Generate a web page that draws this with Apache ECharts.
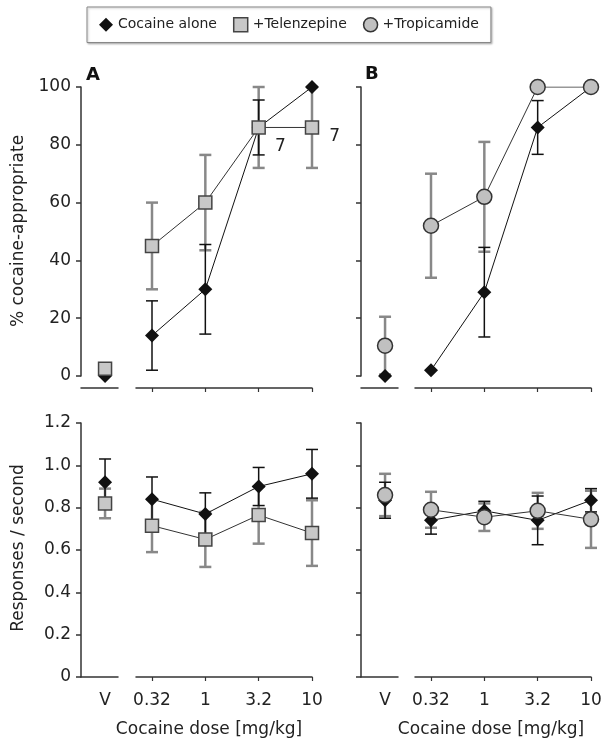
<!DOCTYPE html>
<html lang="en">
<head>
  <meta charset="UTF-8">
  <title>Cocaine dose response</title>
  <style>
    html, body { margin: 0; padding: 0; background: #fff; }
    #chart { width: 607px; height: 750px; }
  </style>
  <script src="https://cdn.jsdelivr.net/npm/echarts@6/dist/echarts.min.js"></script>
</head>
<body>
  <div id="chart"></div>
  <script>
    // index 0 = vehicle (V), 1..4 = cocaine doses
    var doseLabels = ['0.32', '1', '3.2', '10'];

    // % cocaine-appropriate responding
    var cocA_pct = [0, 14, 30, 86, 100];
    var cocA_pctErr = [0, 12, 15.5, 9.5, 0];
    var telA_pct = [2.5, 45, 60, 86, 86];
    var telA_pctErr = [0, 15, 16.5, 14, 14];
    var telA_n = ['', '', '', '7', '7'];

    var cocB_pct = [0, 2, 29, 86, 100];
    var cocB_pctErr = [0, 0, 15.5, 9.3, 0];
    var troB_pct = [10.5, 52, 62, 100, 100];
    var troB_pctErr = [10, 18, 19, 0, 0];

    // responses / second
    var cocA_rate = [0.92, 0.84, 0.77, 0.90, 0.96];
    var cocA_rateErr = [0.11, 0.105, 0.10, 0.09, 0.115];
    var telA_rate = [0.82, 0.715, 0.65, 0.765, 0.68];
    var telA_rateErr = [0.07, 0.125, 0.13, 0.135, 0.155];

    var cocB_rate = [0.835, 0.74, 0.785, 0.74, 0.835];
    var cocB_rateErr = [0.085, 0.065, 0.045, 0.115, 0.055];
    var troB_rate = [0.86, 0.79, 0.755, 0.785, 0.745];
    var troB_rateErr = [0.10, 0.085, 0.065, 0.085, 0.135];

    var FONT = 'DejaVu Sans';
    var AXIS = '#333';

    var styles = {
      'Cocaine alone': { symbol: 'diamond', size: 14, item: { color: '#111' }, line: '#111', err: '#111', errW: 1.5, z: 3 },
      '+Telenzepine': { symbol: 'rect', size: 13, item: { color: '#c8c8c8', borderColor: '#444', borderWidth: 1.5 }, line: '#333', err: '#888', errW: 2.5, z: 4 },
      '+Tropicamide': { symbol: 'circle', size: 15, item: { color: '#c0c0c0', borderColor: '#333', borderWidth: 1.5 }, line: '#333', err: '#888', errW: 2.5, z: 4 }
    };

    // grids: 0 A-top V, 1 A-top dose, 2 B-top V, 3 B-top dose, 4..7 same for bottom row
    var grids = [];
    var xAxes = [];
    var yAxes = [];
    var rows = [{ top: 87, height: 289, max: 100, interval: 20, offset: 12, labels: false },
                { top: 423, height: 254, max: 1.2, interval: 0.2, offset: 0, labels: true }];
    var cols = [{ vLeft: 81, dLeft: 136, yLabels: true }, { vLeft: 361, dLeft: 415, yLabels: false }];

    rows.forEach(function (row) {
      cols.forEach(function (col) {
        // vehicle segment
        grids.push({ left: col.vLeft, width: 37, top: row.top, height: row.height, outerBoundsMode: 'none' });
        xAxes.push({
          gridIndex: grids.length - 1, type: 'value', min: -0.65, max: 0.35, offset: row.offset,
          axisLine: { onZero: false, lineStyle: { color: AXIS, width: 1.5 } },
          axisTick: { show: false }, splitLine: { show: false },
          axisLabel: { show: row.labels, customValues: [0], formatter: function () { return 'V'; },
            margin: 15, fontFamily: FONT, fontSize: 17, color: '#222' }
        });
        yAxes.push({
          gridIndex: grids.length - 1, type: 'value', min: 0, max: row.max, interval: row.interval,
          axisLine: { show: true, onZero: false, lineStyle: { color: AXIS, width: 1.5 } },
          axisTick: { show: true, length: 5, lineStyle: { color: AXIS, width: 1.5 } },
          splitLine: { show: false },
          axisLabel: { show: col.yLabels, margin: 10, fontFamily: FONT, fontSize: 17, color: '#222',
            formatter: function (v) { return row.max > 2 ? String(v) : (v === 0 ? '0' : v.toFixed(1)); } }
        });
        // dose segment
        grids.push({ left: col.dLeft, width: 176, top: row.top, height: row.height, outerBoundsMode: 'none' });
        xAxes.push({
          gridIndex: grids.length - 1, type: 'value', min: -0.3, max: 3, offset: row.offset,
          axisLine: { onZero: false, lineStyle: { color: AXIS, width: 1.5 } },
          axisTick: { show: true, customValues: [0, 1, 2, 3], length: 4, lineStyle: { color: AXIS, width: 1.2 } },
          splitLine: { show: false },
          axisLabel: { show: row.labels, customValues: [0, 1, 2, 3], margin: 15,
            formatter: function (v) { return doseLabels[Math.round(v)]; },
            fontFamily: FONT, fontSize: 17, color: '#222' }
        });
        yAxes.push({ gridIndex: grids.length - 1, type: 'value', min: 0, max: row.max, show: false, splitLine: { show: false } });
      });
    });

    function errRenderer(color, width) {
      return function (params, api) {
        var x = api.value(0), m = api.value(1), e = api.value(2);
        if (!e) return;
        var hi = api.coord([x, m + e]);
        var lo = api.coord([x, m - e]);
        var w = 6;
        var st = { stroke: color, lineWidth: width };
        return {
          type: 'group',
          children: [
            { type: 'line', shape: { x1: hi[0], y1: hi[1], x2: lo[0], y2: lo[1] }, style: st },
            { type: 'line', shape: { x1: hi[0] - w, y1: hi[1], x2: hi[0] + w, y2: hi[1] }, style: st },
            { type: 'line', shape: { x1: lo[0] - w, y1: lo[1], x2: lo[0] + w, y2: lo[1] }, style: st }
          ]
        };
      };
    }

    var series = [];

    function addGroup(gV, name, vals, errs, nLabels) {
      var s = styles[name];
      var gD = gV + 1;
      var errZ = s.err === '#111' ? 2 : 1;
      // error bars
      series.push({
        name: name, type: 'custom', xAxisIndex: gV, yAxisIndex: gV, z: errZ,
        renderItem: errRenderer(s.err, s.errW), encode: { x: 0, y: 1 },
        data: [[0, vals[0], errs[0]]]
      });
      series.push({
        name: name, type: 'custom', xAxisIndex: gD, yAxisIndex: gD, z: errZ,
        renderItem: errRenderer(s.err, s.errW), encode: { x: 0, y: 1 },
        data: vals.slice(1).map(function (v, i) { return [i, v, errs[i + 1]]; })
      });
      // points
      series.push({
        name: name, type: 'line', xAxisIndex: gV, yAxisIndex: gV, z: s.z,
        symbol: s.symbol, symbolSize: s.size, itemStyle: s.item, lineStyle: { color: s.line, width: 1 },
        data: [[0, vals[0]]]
      });
      series.push({
        name: name, type: 'line', xAxisIndex: gD, yAxisIndex: gD, z: s.z,
        symbol: s.symbol, symbolSize: s.size, itemStyle: s.item, lineStyle: { color: s.line, width: 1 },
        data: vals.slice(1).map(function (v, i) {
          var lab = nLabels ? nLabels[i + 1] : '';
          var item = { value: [i, v] };
          if (lab) {
            item.label = {
              show: true, formatter: lab, position: 'right', distance: 5,
              offset: i === 2 ? [4, 19] : [5, 9],
              fontFamily: FONT, fontSize: 17, color: '#222'
            };
          }
          return item;
        })
      });
    }

    addGroup(0, 'Cocaine alone', cocA_pct, cocA_pctErr);
    addGroup(0, '+Telenzepine', telA_pct, telA_pctErr, telA_n);
    addGroup(2, 'Cocaine alone', cocB_pct, cocB_pctErr);
    addGroup(2, '+Tropicamide', troB_pct, troB_pctErr);
    addGroup(4, 'Cocaine alone', cocA_rate, cocA_rateErr);
    addGroup(4, '+Telenzepine', telA_rate, telA_rateErr);
    addGroup(6, 'Cocaine alone', cocB_rate, cocB_rateErr);
    addGroup(6, '+Tropicamide', troB_rate, troB_rateErr);

    var chart = echarts.init(document.getElementById('chart'), null, { renderer: 'canvas' });
    chart.setOption({
      animation: false,
      backgroundColor: '#fff',
      legend: {
        left: 87, top: 7,
        padding: [10, 12, 10, 12],
        itemWidth: 14, itemHeight: 14, itemGap: 16,
        borderColor: '#888', borderWidth: 1,
        shadowColor: 'rgba(0,0,0,0.25)', shadowBlur: 2, shadowOffsetX: 1, shadowOffsetY: 1,
        backgroundColor: '#fff',
        textStyle: { fontFamily: FONT, fontSize: 14, color: '#222' },
        data: [
          { name: 'Cocaine alone', icon: 'diamond', itemStyle: styles['Cocaine alone'].item },
          { name: '+Telenzepine', icon: 'rect', itemStyle: styles['+Telenzepine'].item },
          { name: '+Tropicamide', icon: 'circle', itemStyle: styles['+Tropicamide'].item }
        ]
      },
      grid: grids,
      xAxis: xAxes,
      yAxis: yAxes,
      series: series,
      graphic: [
        { type: 'text', x: 86, y: 75, style: { text: 'A', font: 'bold 18px "DejaVu Sans"', fill: '#111', verticalAlign: 'middle' } },
        { type: 'text', x: 365, y: 74, style: { text: 'B', font: 'bold 18px "DejaVu Sans"', fill: '#111', verticalAlign: 'middle' } },
        { type: 'text', x: 19, y: 231, rotation: Math.PI / 2,
          style: { text: '% cocaine-appropriate', font: '17px "DejaVu Sans"', fill: '#222', align: 'center', verticalAlign: 'middle' } },
        { type: 'text', x: 19, y: 548, rotation: Math.PI / 2,
          style: { text: 'Responses / second', font: '17px "DejaVu Sans"', fill: '#222', align: 'center', verticalAlign: 'middle' } },
        { type: 'text', x: 209, y: 730,
          style: { text: 'Cocaine dose [mg/kg]', font: '17px "DejaVu Sans"', fill: '#222', align: 'center', verticalAlign: 'middle' } },
        { type: 'text', x: 491, y: 730,
          style: { text: 'Cocaine dose [mg/kg]', font: '17px "DejaVu Sans"', fill: '#222', align: 'center', verticalAlign: 'middle' } }
      ]
    });
  </script>
</body>
</html>
